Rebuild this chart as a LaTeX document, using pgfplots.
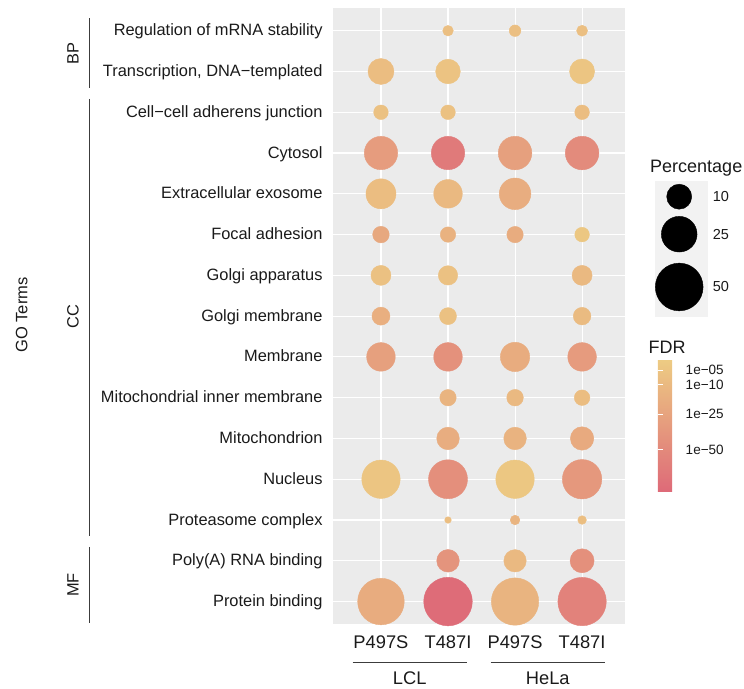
\documentclass[border=0pt]{standalone}
\usepackage{pgfplots}
\pgfplotsset{compat=1.18}
\usepackage{pgfplotstable}
\usepackage{fontspec}
\setmainfont{Liberation Sans}
\definecolor{panelgrey}{RGB}{235,235,235}
\definecolor{keygrey}{RGB}{242,242,242}
\definecolor{txt}{RGB}{26,26,26}
\definecolor{brk}{RGB}{60,60,60}
\newcommand\yfont{\fontsize{16.4}{18}\selectfont}
\newcommand\xfont{\fontsize{18.3}{20}\selectfont}
\newcommand\lfont{\fontsize{14.5}{17}\selectfont}
\newcommand\cfont{\fontsize{13.5}{16}\selectfont}
\newcommand\tfont{\fontsize{18}{20}\selectfont}

% x: 1 LCL P497S, 2 LCL T487I, 3 HeLa P497S, 4 HeLa T487I
% y: row from top (1 = Regulation of mRNA stability ... 15 = Protein binding)
% p: percentage, l: -log10(FDR)
\pgfplotstableread{
x y p l
2 1 0.47 7.5
3 1 0.74 7.5
4 1 0.57 7.5
1 2 11.1 8.5
2 2 9.6 5.8
4 2 10.0 5.0
1 3 1.89 6.6
2 3 1.89 6.6
4 3 1.89 8.5
1 4 21.2 31.2
2 4 21.2 68.7
3 4 21.5 27.8
4 4 21.5 48.9
1 5 16.2 8.5
2 5 14.3 10.5
3 5 18.5 17.9
1 6 2.95 21.5
2 6 2.29 14.6
3 6 2.84 18.6
4 6 1.89 4.2
1 7 5.3 6.6
2 7 4.84 6.6
4 7 5.3 10.5
1 8 3.84 16.5
2 8 3.19 6.6
4 8 3.57 9.5
1 9 14.3 27.8
2 9 14.3 41.6
3 9 15.3 18.6
4 9 14.3 32.1
2 10 2.84 13.4
3 10 2.95 10.5
4 10 2.39 8.5
2 11 7.56 17.9
3 11 7.56 14.0
4 11 8.33 20.0
1 12 29.9 5.0
2 12 31.0 44.6
3 12 29.9 4.2
4 12 31.8 34.8
2 13 0 8.0
3 13 0.27 13.4
4 13 0.12 8.0
2 14 7.56 38.6
3 14 7.37 10.5
4 14 8.94 43.6
1 15 47.2 18.6
2 15 52.1 87.3
3 15 49.1 13.4
4 15 51.6 59.0
}\bubbles

\pgfplotstableread{
x y p
679.2 196.7 10
679.2 234.2 25
679.2 287.0 50
}\sizekey

\begin{document}
\begin{tikzpicture}
\path[use as bounding box] (0,0) rectangle (744pt,688pt);

\begin{axis}[
  at={(332.7pt,64pt)}, anchor=south west, scale only axis,
  width=292.3pt, height=615.7pt,
  xmin=0.28, xmax=4.64, ymin=0.45, ymax=15.55,
  axis background/.style={fill=panelgrey},
  axis line style={draw=none},
  xmajorgrids, ymajorgrids, major grid style={white, line width=1.1pt},
  xtick={1,2,3,4}, xticklabels={P497S,T487I,P497S,T487I},
  ytick={1,...,15},
  yticklabels={Protein binding, Poly(A) RNA binding, Proteasome complex, Nucleus,
    Mitochondrion, Mitochondrial inner membrane, Membrane, Golgi membrane,
    Golgi apparatus, Focal adhesion, Extracellular exosome, Cytosol,
    Cell−cell adherens junction, {Transcription, DNA−templated}, Regulation of mRNA stability},
  major tick length=0pt, tick style={draw=none},
  xticklabel style={font=\xfont, text=txt, anchor=base, inner sep=0pt, yshift=-24pt},
  yticklabel style={font=\yfont, text=txt, anchor=base east, inner sep=0pt, xshift=-10pt, yshift=-5pt},
  colormap={fdr}{rgb255=(222,106,120) rgb255=(237,204,131)},
  point meta min=-11.89, point meta max=-1.59,
  colorbar,
  colorbar style={
    at={(parent axis.south west)}, anchor=north west, xshift=316.6pt, yshift=264.7pt,
    scale only axis, width=25.7pt, height=132.4pt,
    axis line style={draw=none},
    ytick={-2.423,-3.548,-5.873,-8.609},
    yticklabels={1e−05,1e−10,1e−25,1e−50},
    yticklabel pos=right, ytick pos=both,
    tick align=inside, major tick length=5.5pt,
    tick style={draw=white, line width=0.9pt},
    major tick style={draw=white, line width=0.9pt},
    yticklabel style={font=\cfont, text=txt, anchor=west, inner sep=0pt, xshift=2pt},
    axis on top,
  },
]
\addplot[scatter, only marks, mark=*,
  scatter/use mapped color={draw=mapped color, fill=mapped color},
  point meta={-pow(\thisrow{l},0.55)},
  visualization depends on={3.3+2.91*sqrt(\thisrow{p}) \as \rad},
  scatter/@pre marker code/.append style={/tikz/mark size=\rad}]
  table[x=x, y expr=16-\thisrow{y}] \bubbles;
\end{axis}

% size legend
\begin{axis}[
  at={(655pt,371.3pt)}, anchor=south west, scale only axis,
  width=53.3pt, height=136pt,
  xmin=655, xmax=708.3, ymin=180.7, ymax=316.7, y dir=reverse,
  axis background/.style={fill=keygrey},
  axis line style={draw=none},
  xtick=\empty, ytick={196.7,234.2,287}, yticklabels={10,25,50},
  yticklabel pos=right, major tick length=0pt, tick style={draw=none},
  yticklabel style={font=\lfont, text=txt, anchor=west, inner sep=0pt, xshift=4.4pt},
  clip=false,
]
\addplot[scatter, only marks, mark=*, point meta=0,
  scatter/use mapped color={draw=black, fill=black},
  visualization depends on={3.3+2.91*sqrt(\thisrow{p}) \as \rad},
  scatter/@pre marker code/.append style={/tikz/mark size=\rad}]
  table[x=x, y=y] \sizekey;
\end{axis}

% group brackets and labels
\draw[brk, line width=1.3pt] (89.3pt,669.7pt) -- (89.3pt,599.7pt);
\draw[brk, line width=1.3pt] (89.3pt,589pt) -- (89.3pt,152pt);
\draw[brk, line width=1.3pt] (89.3pt,141pt) -- (89.3pt,65.3pt);
\node[rotate=90, inner sep=0pt, font=\yfont, text=txt] at (73pt,634pt) {BP};
\node[rotate=90, inner sep=0pt, font=\yfont, text=txt] at (73pt,371.3pt) {CC};
\node[rotate=90, inner sep=0pt, font=\yfont, text=txt] at (73pt,103pt) {MF};
\node[rotate=90, inner sep=0pt, font=\fontsize{16.5}{18}\selectfont, text=txt] at (21.7pt,373pt) {GO Terms};

% cell line brackets
\draw[brk, line width=1.3pt] (352.7pt,25.3pt) -- (466.7pt,25.3pt);
\draw[brk, line width=1.3pt] (490.7pt,25.3pt) -- (605pt,25.3pt);
\node[anchor=base, inner sep=0pt, font=\xfont, text=txt] at (409.7pt,4pt) {LCL};
\node[anchor=base, inner sep=0pt, font=\xfont, text=txt] at (547.8pt,4pt) {HeLa};

% legend titles
\node[anchor=base west, inner sep=0pt, font=\tfont, text=txt] at (650pt,515.3pt) {Percentage};
\node[anchor=base west, inner sep=0pt, font=\tfont, text=txt] at (648.3pt,334pt) {FDR};
\end{tikzpicture}
\end{document}
